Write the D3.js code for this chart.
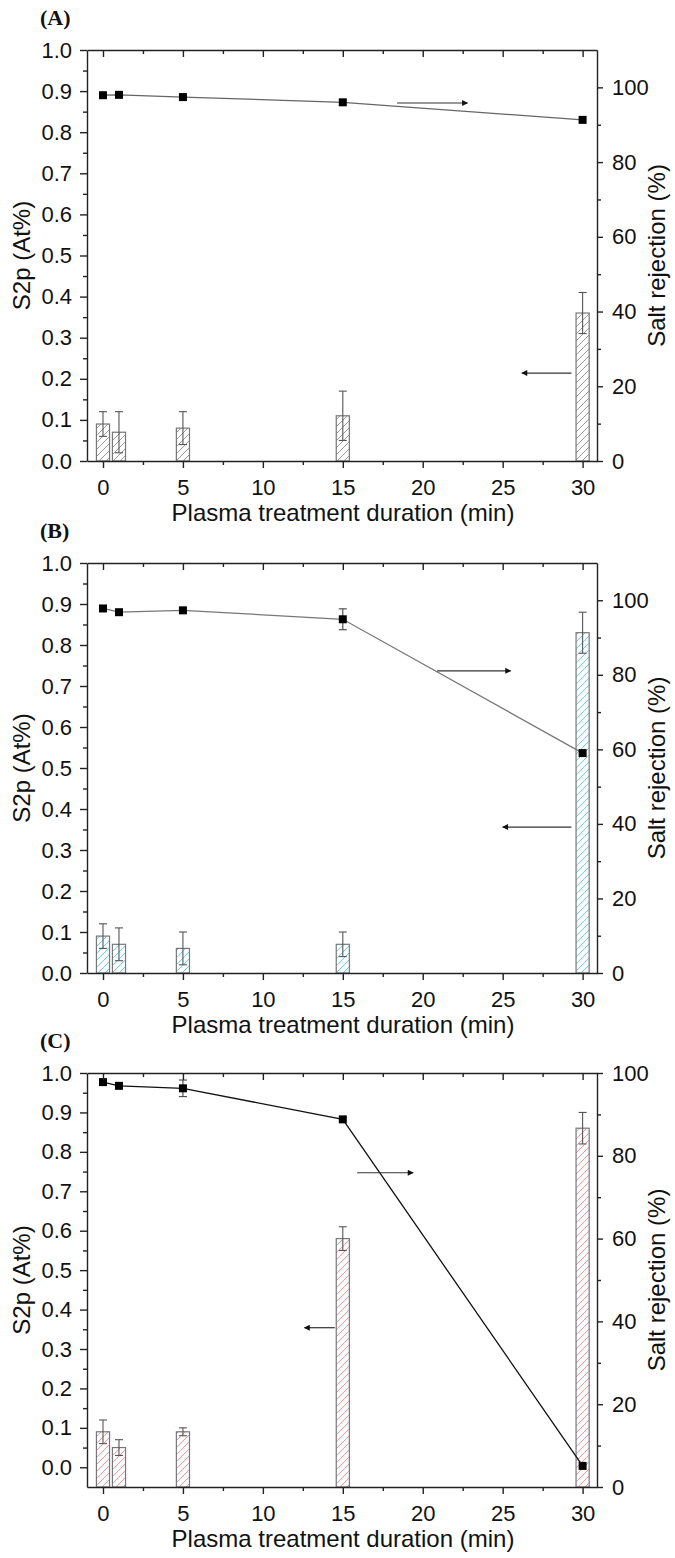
<!DOCTYPE html>
<html lang="en">
<head>
    <meta charset="UTF-8">
    <title>S2p and salt rejection vs plasma treatment</title>
    <script src="https://cdn.jsdelivr.net/npm/d3@7/dist/d3.min.js"></script>
    <style>
        body { margin: 0; background: #fff; }
        svg { display: block; }
        .tick text { font-family: "Liberation Sans", Arial, sans-serif; font-size: 22px; fill: #111; }
        .axis path, .axis line { stroke: #222; stroke-width: 1.4px; }
        .title { font-family: "Liberation Sans", Arial, sans-serif; font-size: 24px; fill: #111; }
        .panel-label { font-family: "Liberation Serif", "Times New Roman", serif; font-size: 22px; font-weight: bold; fill: #111; }
    </style>
</head>
<body>
<script>
    // treatment times (min)
    const minutes = [0, 1, 5, 15, 30];

    // panel A
    const s2pA = [0.09, 0.07, 0.08, 0.11, 0.36];
    const s2pErrA = [0.03, 0.05, 0.04, 0.06, 0.05];
    const rejA = [97.9, 98.0, 97.4, 96.0, 91.3];
    const rejErrA = [0, 0, 0, 0, 0];

    // panel B
    const s2pB = [0.09, 0.07, 0.06, 0.07, 0.83];
    const s2pErrB = [0.03, 0.04, 0.04, 0.03, 0.05];
    const rejB = [97.8, 96.8, 97.3, 94.9, 59.0];
    const rejErrB = [0, 0, 0, 2.8, 0];

    // panel C
    const s2pC = [0.09, 0.05, 0.09, 0.58, 0.86];
    const s2pErrC = [0.03, 0.02, 0.01, 0.03, 0.04];
    const rejC = [97.8, 96.9, 96.3, 88.8, 5.1];
    const rejErrC = [0, 0, 2.0, 0, 0];

    // tick labels
    const xTicks = [0, 5, 10, 15, 20, 25, 30];
    const leftTicks = d3.range(0, 11).map(i => i / 10);
    const rightTicks = [0, 20, 40, 60, 80, 100];

    const width = 675, height = 1558;
    const svg = d3.select('body').append('svg')
        .attr('width', width)
        .attr('height', height);

    svg.append('rect').attr('width', width).attr('height', height).attr('fill', '#fff');

    const defs = svg.append('defs');

    // arrow head
    defs.append('marker')
        .attr('id', 'head')
        .attr('viewBox', '0 0 10 10')
        .attr('refX', 9).attr('refY', 5)
        .attr('markerWidth', 10).attr('markerHeight', 6)
        .attr('markerUnits', 'userSpaceOnUse')
        .attr('orient', 'auto')
        .append('path').attr('d', 'M0,0 L10,5 L0,10 z').attr('fill', '#111');

    function hatch (id, color) {
        let p = defs.append('pattern')
            .attr('id', id)
            .attr('patternUnits', 'userSpaceOnUse')
            .attr('width', 7).attr('height', 7);
        p.append('rect').attr('width', 7).attr('height', 7).attr('fill', '#fff');
        p.append('path')
            .attr('d', 'M-1,1 l2,-2 M0,7 l7,-7 M6,8 l2,-2')
            .attr('stroke', color)
            .attr('stroke-width', 1);
    }

    const panels = [
        {label: '(A)', top: 50, bottom: 461, s2p: s2pA, s2pErr: s2pErrA, rej: rejA, rejErr: rejErrA,
         leftMin: 0, rightMax: 110, hatch: '#9a9a9a', lineColor: '#666',
         arrows: [{x1: 18.4, x2: 22.8, y: 0.871}, {x1: 29.3, x2: 26.2, y: 0.214}]},
        {label: '(B)', top: 563, bottom: 973, s2p: s2pB, s2pErr: s2pErrB, rej: rejB, rejErr: rejErrB,
         leftMin: 0, rightMax: 110, hatch: '#6fd6dc', lineColor: '#777',
         arrows: [{x1: 20.9, x2: 25.5, y: 0.737}, {x1: 29.3, x2: 25.0, y: 0.356}]},
        {label: '(C)', top: 1073, bottom: 1487, s2p: s2pC, s2pErr: s2pErrC, rej: rejC, rejErr: rejErrC,
         leftMin: -0.05, rightMax: 100, hatch: '#f29a9a', lineColor: '#111',
         arrows: [{x1: 15.9, x2: 19.4, y: 0.747}, {x1: 14.5, x2: 12.6, y: 0.354}]}
    ];

    const plotLeft = 87, plotRight = 597;

    panels.forEach((p, pi) => {
        const pid = 'hatch' + pi;
        hatch(pid, p.hatch);

        const x = d3.scaleLinear().domain([-1, 30.9]).range([plotLeft, plotRight]);
        const yL = d3.scaleLinear().domain([p.leftMin, 1.0]).range([p.bottom, p.top]);
        const yR = d3.scaleLinear().domain([0, p.rightMax]).range([p.bottom, p.top]);

        const g = svg.append('g');
        const barW = x(0.82) - x(0);

        // bars
        g.selectAll('rect.bar').data(minutes).enter().append('rect')
            .attr('class', 'bar')
            .attr('x', d => x(d) - barW / 2)
            .attr('width', barW)
            .attr('y', (d, i) => yL(p.s2p[i]))
            .attr('height', (d, i) => p.bottom - yL(p.s2p[i]))
            .attr('fill', 'url(#' + pid + ')')
            .attr('stroke', '#777')
            .attr('stroke-width', 1.2);

        // bar error bars
        const eb = g.selectAll('g.eb').data(minutes).enter().append('g')
            .attr('stroke', '#555').attr('stroke-width', 1.1);
        eb.append('line')
            .attr('x1', d => x(d)).attr('x2', d => x(d))
            .attr('y1', (d, i) => yL(p.s2p[i] - p.s2pErr[i]))
            .attr('y2', (d, i) => yL(p.s2p[i] + p.s2pErr[i]));
        [-1, 1].forEach(s => {
            eb.append('line')
                .attr('x1', d => x(d) - 4).attr('x2', d => x(d) + 4)
                .attr('y1', (d, i) => yL(p.s2p[i] + s * p.s2pErr[i]))
                .attr('y2', (d, i) => yL(p.s2p[i] + s * p.s2pErr[i]));
        });

        // salt rejection line
        const line = d3.line().x(d => x(d[0])).y(d => yR(d[1]));
        g.append('path')
            .datum(minutes.map((m, i) => [m, p.rej[i]]))
            .attr('d', line)
            .attr('fill', 'none')
            .attr('stroke', p.lineColor)
            .attr('stroke-width', 1.3);

        const re = g.selectAll('g.re').data(minutes.filter((m, i) => p.rejErr[i] > 0)).enter().append('g')
            .attr('stroke', '#444').attr('stroke-width', 1.1);
        re.each(function (d) {
            const i = minutes.indexOf(d);
            const sel = d3.select(this);
            const lo = yR(p.rej[i] - p.rejErr[i]), hi = yR(p.rej[i] + p.rejErr[i]);
            sel.append('line').attr('x1', x(d)).attr('x2', x(d)).attr('y1', lo).attr('y2', hi);
            sel.append('line').attr('x1', x(d) - 4).attr('x2', x(d) + 4).attr('y1', lo).attr('y2', lo);
            sel.append('line').attr('x1', x(d) - 4).attr('x2', x(d) + 4).attr('y1', hi).attr('y2', hi);
        });

        g.selectAll('rect.mk').data(minutes).enter().append('rect')
            .attr('class', 'mk')
            .attr('x', d => x(d) - 4)
            .attr('y', (d, i) => yR(p.rej[i]) - 4)
            .attr('width', 8).attr('height', 8)
            .attr('fill', '#000');

        // arrows pointing to the axis of each series
        g.selectAll('line.arrow').data(p.arrows).enter().append('line')
            .attr('x1', d => x(d.x1)).attr('x2', d => x(d.x2))
            .attr('y1', d => yL(d.y)).attr('y2', d => yL(d.y))
            .attr('stroke', '#333').attr('stroke-width', 1.2)
            .attr('marker-end', 'url(#head)');

        // axes
        const ax = svg.append('g');
        const leftMinor = d3.range(0.05, 1.0, 0.1);
        const xMinor = [2.5, 7.5, 12.5, 17.5, 22.5, 27.5];

        ax.append('g').attr('class', 'axis').attr('transform', `translate(${plotLeft},0)`)
            .call(d3.axisLeft(yL).tickValues(leftMinor).tickSize(4).tickFormat(''))
            .call(a => a.select('.domain').remove());
        ax.append('g').attr('class', 'axis').attr('transform', `translate(${plotLeft},0)`)
            .call(d3.axisLeft(yL).tickValues(leftTicks).tickSize(7).tickPadding(8).tickFormat(d3.format('.1f')).tickSizeOuter(0));

        ax.append('g').attr('class', 'axis').attr('transform', `translate(${plotRight},0)`)
            .call(d3.axisRight(yR).tickValues(d3.range(10, 100, 20)).tickSize(4).tickFormat(''))
            .call(a => a.select('.domain').remove());
        ax.append('g').attr('class', 'axis').attr('transform', `translate(${plotRight},0)`)
            .call(d3.axisRight(yR).tickValues(rightTicks).tickSize(6).tickPadding(9).tickSizeOuter(0));

        ax.append('g').attr('class', 'axis').attr('transform', `translate(0,${p.bottom})`)
            .call(d3.axisBottom(x).tickValues(xMinor).tickSize(4).tickFormat(''))
            .call(a => a.select('.domain').remove());
        ax.append('g').attr('class', 'axis').attr('transform', `translate(0,${p.bottom})`)
            .call(d3.axisBottom(x).tickValues(xTicks).tickSize(7).tickPadding(11).tickSizeOuter(0));

        ax.append('g').attr('class', 'axis').attr('transform', `translate(0,${p.top})`)
            .call(d3.axisTop(x).tickValues(xMinor).tickSize(-4).tickFormat(''))
            .call(a => a.select('.domain').remove());
        ax.append('g').attr('class', 'axis').attr('transform', `translate(0,${p.top})`)
            .call(d3.axisTop(x).tickValues(xTicks).tickSize(-7).tickFormat('').tickSizeOuter(0));

        // titles
        const mid = (p.top + p.bottom) / 2;
        svg.append('text').attr('class', 'title')
            .attr('transform', `translate(30,${mid}) rotate(-90)`)
            .attr('text-anchor', 'middle')
            .text('S2p (At%)');
        svg.append('text').attr('class', 'title')
            .attr('transform', `translate(665,${mid}) rotate(-90)`)
            .attr('text-anchor', 'middle')
            .text('Salt rejection (%)');
        svg.append('text').attr('class', 'title')
            .attr('x', (plotLeft + plotRight) / 2 + 1)
            .attr('y', p.bottom + 60)
            .attr('text-anchor', 'middle')
            .text('Plasma treatment duration (min)');
        svg.append('text').attr('class', 'panel-label')
            .attr('x', 40)
            .attr('y', p.top - 25)
            .text(p.label);
    });
</script>
</body>
</html>
